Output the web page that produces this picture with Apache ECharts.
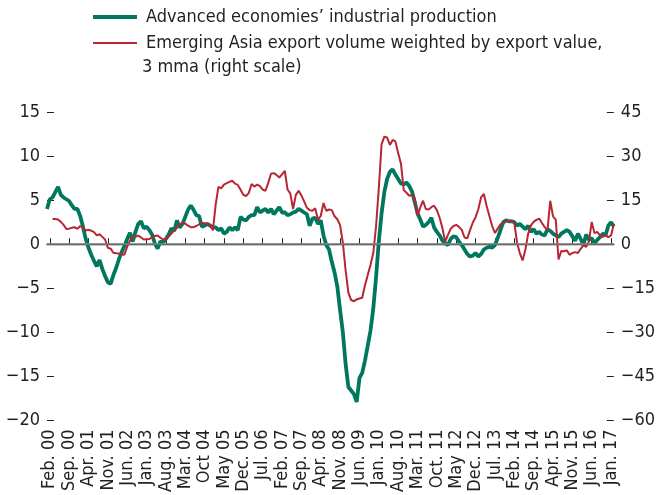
<!DOCTYPE html>
<html>
<head>
<meta charset="utf-8">
<script src="https://cdn.jsdelivr.net/npm/echarts@6/dist/echarts.min.js"></script>
<style>
  html, body { margin: 0; padding: 0; background: #fff; }
  #chart { width: 658px; height: 495px; }
</style>
</head>
<body>
<div id="chart"></div>
<script>
// monthly, Jan 2000 .. Feb 2017
var startYear = 2000, startMonth = 0, nMonths = 206;
var months = [];
for (var i = 0; i < nMonths; i++) {
    var y = startYear + Math.floor((startMonth + i) / 12);
    var m = (startMonth + i) % 12 + 1;
    months.push(y + '-' + (m < 10 ? '0' + m : m));
}

// every 7 months from Feb. 00
var tickLabels = ['Feb. 00', 'Sep. 00', 'Apr. 01', 'Nov. 01', 'Jun. 02', 'Jan. 03', 'Aug. 03', 'Mar. 04',
    'Oct 04', 'May 05', 'Dec. 05', 'Jul. 06', 'Feb. 07', 'Sep. 07', 'Apr. 08', 'Nov. 08', 'Jun. 09',
    'Jan. 10', 'Aug. 10', 'Mar. 11', 'Oct. 11', 'May 12', 'Dec. 12', 'Jul. 13', 'Feb. 14', 'Sep. 14',
    'Apr. 15', 'Nov. 15', 'Jun. 16', 'Jan. 17'];

// Advanced economies' industrial production (left scale)
var advancedIP = [
    4.0, 5.1, 5.3, 5.9, 6.5, 5.6, 5.3, 5.1, 4.9, 4.4, 4.0, 4.0,
    3.2, 2.0, 0.6, -0.4, -1.2, -1.9, -2.5, -1.8, -2.8, -3.6, -4.3, -4.5,
    -3.5, -2.7, -1.7, -0.9, -0.2, 0.6, 1.3, 0.3, 1.4, 2.3, 2.6, 1.8,
    2.0, 1.6, 1.1, 0.1, -0.5, 0.3, 0.2, 0.6, 1.1, 1.8, 1.5, 2.7,
    1.9, 2.3, 3.1, 3.9, 4.4, 3.9, 3.3, 3.2, 2.0, 2.1, 2.3, 2.1,
    1.9, 1.9, 1.6, 1.8, 1.2, 1.4, 1.9, 1.6, 1.9, 1.6, 3.1, 2.8,
    2.7, 3.1, 3.3, 3.3, 4.2, 3.6, 3.8, 4.0, 3.6, 4.0, 3.4, 3.8,
    4.2, 3.6, 3.6, 3.3, 3.4, 3.6, 3.7, 4.0, 3.8, 3.6, 3.4, 2.1,
    2.9, 3.0, 2.3, 2.7, 1.0, -0.1, -0.6, -2.0, -3.2, -4.8, -7.5, -10.0,
    -13.6, -16.2, -16.6, -17.0, -17.9, -15.2, -14.6, -13.2, -11.5, -9.8, -7.3, -3.8,
    0.3, 3.5, 5.9, 7.4, 8.2, 8.5, 7.9, 7.4, 6.9, 6.8, 7.0, 6.6,
    6.0, 4.8, 3.5, 2.8, 2.0, 2.2, 2.5, 3.0, 1.9, 1.4, 1.0, 0.4,
    0.1, -0.1, 0.6, 0.9, 0.8, 0.3, -0.1, -0.6, -1.1, -1.4, -1.3, -1.0,
    -1.4, -1.1, -0.6, -0.4, -0.3, -0.4, -0.1, 0.7, 1.6, 2.5, 2.7, 2.6,
    2.6, 2.5, 2.1, 2.3, 2.0, 1.7, 2.1, 1.4, 1.7, 1.2, 1.4, 1.1,
    1.0, 1.7, 1.5, 1.2, 1.0, 0.8, 1.2, 1.4, 1.6, 1.4, 0.9, 0.4,
    1.2, 0.6, -0.1, 1.1, 0.5, 0.7, 0.1, 0.5, 0.8, 1.2, 1.0, 2.1,
    2.5, 2.0
];

// Emerging Asia export volume weighted by export value, 3 mma (right scale)
var emAsiaExports = [
    null, null, 8.6, 8.6, 8.4, 7.6, 6.6, 5.2, 5.3, 5.6, 5.8, 5.2,
    6.2, 5.6, 4.7, 4.9, 4.6, 4.1, 3.0, 3.4, 2.5, 1.6, -1.2, -1.5,
    -2.9, -3.1, -3.2, -3.4, -3.6, -0.8, 1.2, 2.4, 2.5, 2.9, 2.3, 1.6,
    1.7, 1.8, 2.3, 2.8, 3.0, 2.2, 1.6, 1.8, 2.6, 3.6, 4.7, 5.6,
    6.6, 7.4, 7.0, 6.3, 5.8, 5.8, 6.2, 6.8, 7.2, 7.1, 7.0, 6.6,
    4.7, 13.5, 19.5, 19.0, 20.3, 20.8, 21.2, 21.6, 20.6, 20.2, 18.5, 16.8,
    16.4, 17.5, 20.5, 19.6, 20.3, 19.8, 18.6, 18.2, 20.8, 24.0, 24.2, 23.6,
    22.7, 23.8, 25.0, 18.6, 17.2, 12.0, 16.8, 18.2, 16.6, 14.6, 12.4, 11.6,
    11.4, 12.2, 8.4, 9.6, 14.0, 11.4, 11.8, 11.6, 9.5, 8.5, 6.5, 0.5,
    -9.0, -16.5, -19.0, -19.4, -18.8, -18.5, -18.2, -14.0, -10.5, -7.0, -3.0, 6.0,
    19.0, 34.0, 36.6, 36.3, 33.8, 35.5, 35.0, 31.0, 27.5, 18.5, 17.5, 16.5,
    16.8, 15.5, 9.8, 12.5, 14.8, 12.0, 11.8, 12.6, 13.1, 11.6, 9.0, 5.5,
    0.8, 3.2, 5.2, 6.2, 6.6, 5.9, 4.9, 2.3, 2.0, 4.8, 7.4, 9.2,
    12.0, 16.0, 17.1, 13.0, 9.6, 6.2, 3.8, 5.3, 6.8, 7.0, 7.8, 8.0,
    8.0, 7.4, 0.5, -3.0, -5.5, -2.0, 3.5, 6.4, 7.6, 8.3, 8.7, 7.2,
    5.8, 4.7, 14.8, 9.5, 8.4, -5.2, -2.3, -2.4, -2.1, -3.6, -3.0, -2.7,
    -3.0, -1.6, -0.4, -0.9, 0.9, 7.6, 3.8, 4.2, 3.0, 2.5, 3.0, 2.4,
    3.0, 6.9
];

var leftTicks = { min: -20, max: 15, interval: 5 };
var rightTicks = { min: -60, max: 45, interval: 15 };

var green = '#00775f';
var red = '#b72632';
var ink = '#231f20';
var font = '"DejaVu Sans Condensed", "DejaVu Sans", sans-serif';

function isTick(idx) { return idx % 7 === 1; }
function minus(v) { return v < 0 ? '\u2212' + Math.abs(v) : v; }

var chart = echarts.init(document.getElementById('chart'));

var option = {
    animation: false,
    backgroundColor: '#fff',
    textStyle: { fontFamily: font, color: ink },
    legend: [{
        left: 88, top: 3, orient: 'vertical',
        icon: 'rect', itemWidth: 44, itemHeight: 4,
        textStyle: { fontFamily: font, fontSize: 18, color: ink, padding: [0, 0, 0, 4] },
        data: ['Advanced economies\u2019 industrial production']
    }, {
        left: 88, top: 29, orient: 'vertical',
        icon: 'rect', itemWidth: 44, itemHeight: 2,
        textStyle: { fontFamily: font, fontSize: 18, color: ink, padding: [0, 0, 0, 4] },
        data: ['Emerging Asia export volume weighted by export value,']
    }],
    graphic: [{
        type: 'text', left: 142, top: 58,
        style: { text: '3 mma (right scale)', font: '18px ' + font, fill: ink }
    }],
    grid: { left: 47, right: 40, top: 112, bottom: 73 },
    xAxis: {
        type: 'category',
        data: months,
        boundaryGap: false,
        axisLine: { lineStyle: { color: ink, width: 1.3 } },
        axisTick: { inside: true, length: 6, interval: isTick, lineStyle: { color: ink, width: 1 } },
        axisLabel: {
            interval: isTick, rotate: 90, margin: 9,
            fontFamily: font, fontSize: 18, color: ink,
            formatter: function (val, idx) { return tickLabels[(idx - 1) / 7]; }
        },
        splitLine: { show: false }
    },
    yAxis: [{
        type: 'value',
        min: leftTicks.min, max: leftTicks.max, interval: leftTicks.interval,
        axisLine: { show: false },
        axisTick: { show: true, inside: true, length: 7, lineStyle: { color: ink, width: 1 } },
        axisLabel: { margin: 7, fontFamily: font, fontSize: 18, color: ink, formatter: minus },
        splitLine: { show: false }
    }, {
        type: 'value', position: 'right',
        min: rightTicks.min, max: rightTicks.max, interval: rightTicks.interval,
        axisLine: { show: false },
        axisTick: { show: true, inside: true, length: 7, lineStyle: { color: ink, width: 1 } },
        axisLabel: { margin: 7, fontFamily: font, fontSize: 18, color: ink, formatter: minus },
        splitLine: { show: false }
    }],
    series: [{
        name: 'Advanced economies\u2019 industrial production',
        type: 'line',
        yAxisIndex: 0,
        data: advancedIP,
        showSymbol: false,
        symbol: 'none',
        lineStyle: { color: green, width: 3.8 },
        itemStyle: { color: green },
        z: 2,
        markLine: {
            silent: true, symbol: 'none', label: { show: false },
            lineStyle: { color: '#858585', width: 1.5, type: 'solid' },
            data: [{ yAxis: 0 }]
        }
    }, {
        name: 'Emerging Asia export volume weighted by export value,',
        type: 'line',
        yAxisIndex: 1,
        data: emAsiaExports,
        showSymbol: false,
        symbol: 'none',
        lineStyle: { color: red, width: 2 },
        itemStyle: { color: red },
        z: 3
    }]
};

chart.setOption(option);
</script>
</body>
</html>
